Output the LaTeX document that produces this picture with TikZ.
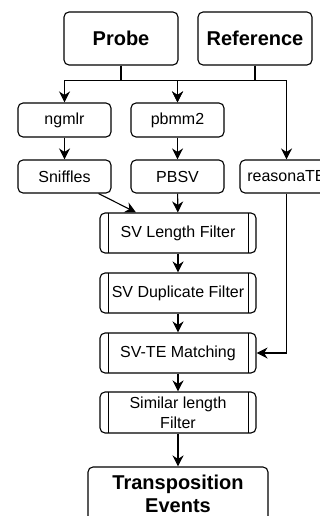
\documentclass[tikz,border=0pt]{standalone}
\usepackage{fontspec}
\setmainfont{Liberation Sans}
\usetikzlibrary{arrows.meta}

\tikzset{
  box/.style={draw, line width=1.1pt, rounded corners=5pt, align=center,
    font=\fontsize{16}{20}\selectfont, inner sep=0pt},
  bigbox/.style={box, font=\fontsize{20}{23}\selectfont\bfseries},
  procbox/.style={box, minimum width=156pt, minimum height=40pt,
    path picture={
      \draw[line width=1pt] ([xshift=8pt]path picture bounding box.north west) -- ([xshift=8pt]path picture bounding box.south west);
      \draw[line width=1pt] ([xshift=-8pt]path picture bounding box.north east) -- ([xshift=-8pt]path picture bounding box.south east);
    }},
  arr/.style={line width=1.1pt, -{Stealth[length=11pt,width=11pt,inset=3.5pt]}}
}

\begin{document}
\begin{tikzpicture}[x=1pt,y=1pt,yscale=-1]
        \useasboundingbox (0,0) rectangle (320,516);

        %Inputs
        \node[bigbox, minimum width=114pt, minimum height=53pt] (probe) at (121,38.5) {Probe};
        \node[bigbox, minimum width=114pt, minimum height=53pt] (reference) at (255,38.5) {Reference};
        %Aligners
        \node[box, minimum width=93pt, minimum height=34pt] (ngmlr) at (64.5,120) {ngmlr};
        \node[box, minimum width=93pt, minimum height=34pt] (pbmm2) at (177.5,120) {pbmm2};
        %Callers
        \node[box, minimum width=93pt, minimum height=33pt] (sniffles) at (64.5,176.5) {Sniffles};
        \node[box, minimum width=93pt, minimum height=33pt] (pbsv) at (177.5,176.5) {PBSV};
        \node[box, minimum width=93pt, minimum height=33pt] (reasonate) at (286.5,176.5) {reasonaTE};
        %Filters
        \node[procbox] (lenfilter) at (178,233) {SV Length Filter};
        \node[procbox] (dupfilter) at (178,293) {SV Duplicate Filter};
        \node[procbox] (matching) at (178,353) {SV-TE Matching};
        \node[procbox, minimum height=41pt] (simfilter) at (178,412.5) {Similar length\\Filter};
        %Output
        \node[bigbox, minimum width=180pt, minimum height=54pt] (events) at (178,494) {Transposition\\Events};

        %Connectors
        \draw[arr] (probe.south) -- ++(0,15) -| (ngmlr.north);
        \draw[arr] (probe.south) -- ++(0,15) -| (pbmm2.north);
        \draw[arr] (reference.south) -- ++(0,15) -| (pbmm2.north);
        \draw[arr] (reference.south) -- ++(0,15) -| (reasonate.north);
        \draw[arr] (ngmlr) -- (sniffles);
        \draw[arr] (pbmm2) -- (pbsv);
        \draw[arr] ([xshift=34pt]sniffles.south) -- ([xshift=-42pt]lenfilter.north);
        \draw[arr] (pbsv) -- (lenfilter);
        \draw[arr] (lenfilter) -- (dupfilter);
        \draw[arr] (dupfilter) -- (matching);
        \draw[arr] (reasonate.south) |- (matching.east);
        \draw[arr] (matching) -- (simfilter);
        \draw[arr] (simfilter) -- (events);

    \end{tikzpicture}
\end{document}
